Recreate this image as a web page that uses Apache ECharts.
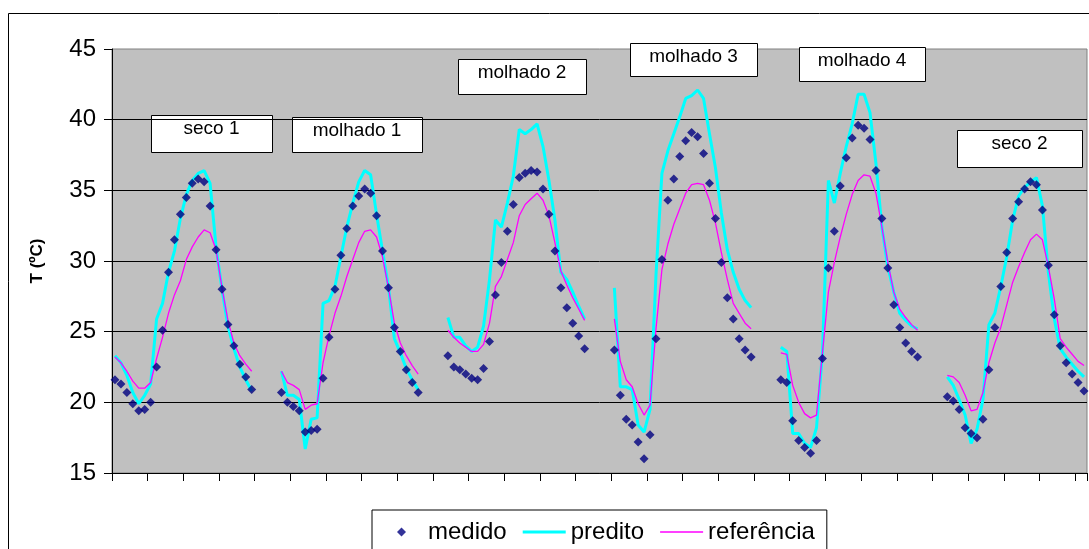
<!DOCTYPE html>
<html>
<head>
<meta charset="utf-8">
<script src="https://cdn.jsdelivr.net/npm/echarts@6/dist/echarts.min.js"></script>
<style>
  html, body { margin: 0; padding: 0; background: #fff; }
  #chart { width: 1089px; height: 549px; }
</style>
</head>
<body>
<div id="chart"></div>
<script>
// Six measured days, hourly readings (24 per day)
const dias = ['seco 1', 'molhado 1', 'molhado 2', 'molhado 3', 'molhado 4', 'seco 2'];
const horasPorDia = 24;
const vaziosEntreDias = 4;          // empty categories separating consecutive days
const yTicks = [15, 20, 25, 30, 35, 40, 45];

// medido (°C)
const medido = [
  [21.6, 21.3, 20.7, 19.9, 19.4, 19.5, 20.0, 22.5, 25.1, 29.2, 31.5, 33.3, 34.5, 35.5, 35.8, 35.6, 33.9, 30.8, 28.0, 25.5, 24.0, 22.7, 21.8, 20.9],
  [20.7, 20.0, 19.7, 19.4, 17.9, 18.0, 18.1, 21.7, 24.6, 28.0, 30.4, 32.3, 33.9, 34.6, 35.1, 34.8, 33.2, 30.7, 28.1, 25.3, 23.6, 22.3, 21.4, 20.7],
  [23.3, 22.5, 22.3, 22.0, 21.7, 21.6, 22.4, 24.3, 27.6, 29.9, 32.1, 34.0, 35.9, 36.2, 36.4, 36.3, 35.1, 33.3, 30.7, 28.1, 26.7, 25.6, 24.7, 23.8],
  [23.7, 20.5, 18.8, 18.4, 17.2, 16.0, 17.7, 24.5, 30.1, 34.3, 35.8, 37.4, 38.5, 39.1, 38.8, 37.6, 35.5, 33.0, 29.9, 27.4, 25.9, 24.5, 23.7, 23.2],
  [21.6, 21.4, 18.7, 17.3, 16.8, 16.4, 17.3, 23.1, 29.5, 32.1, 35.3, 37.3, 38.7, 39.6, 39.4, 38.6, 36.4, 33.0, 29.5, 26.9, 25.3, 24.2, 23.6, 23.2],
  [20.4, 20.1, 19.5, 18.2, 17.8, 17.5, 18.8, 22.3, 25.3, 28.2, 30.6, 33.0, 34.2, 35.1, 35.6, 35.4, 33.6, 29.7, 26.2, 24.0, 22.8, 22.0, 21.4, 20.8]
];

// predito (°C)
const predito = [
  [23.3, 22.8, 21.9, 20.7, 19.9, 20.5, 21.3, 25.9, 27.0, 29.2, 30.7, 33.0, 34.7, 35.7, 36.2, 36.4, 35.5, 31.0, 28.0, 25.4, 23.8, 22.5, 21.6, 20.8],
  [22.2, 20.5, 20.5, 20.2, 16.7, 18.8, 18.9, 27.0, 27.2, 28.2, 30.3, 32.4, 34.1, 35.6, 36.4, 36.1, 33.3, 30.7, 28.2, 24.5, 23.5, 22.4, 21.6, 20.9],
  [26.0, 24.6, 24.6, 24.0, 23.6, 23.9, 25.4, 28.7, 32.9, 32.4, 34.1, 36.0, 39.3, 39.0, 39.3, 39.7, 38.1, 35.7, 32.9, 29.2, 28.7, 27.8, 26.8, 25.9],
  [28.1, 21.1, 21.1, 20.9, 18.4, 17.9, 19.5, 29.0, 36.2, 37.8, 39.0, 40.2, 41.5, 41.7, 42.1, 41.5, 39.0, 36.6, 33.4, 30.8, 29.2, 28.0, 27.2, 26.7],
  [23.9, 23.6, 17.8, 17.8, 17.1, 16.8, 18.2, 23.5, 35.7, 34.1, 36.2, 38.1, 39.7, 41.8, 41.8, 40.5, 36.9, 32.4, 29.6, 27.8, 26.3, 25.8, 25.4, 25.2],
  [21.8, 21.2, 20.2, 19.1, 17.1, 18.1, 20.2, 25.5, 26.3, 28.2, 30.3, 32.9, 34.6, 35.2, 35.6, 35.9, 33.9, 29.2, 25.9, 23.8, 23.2, 22.7, 22.2, 21.8]
];

// referência (°C)
const referencia = [
  [23.2, 22.8, 22.2, 21.5, 21.0, 21.0, 21.4, 23.1, 24.6, 26.3, 27.6, 28.6, 30.1, 31.0, 31.7, 32.2, 32.0, 30.8, 28.1, 25.8, 24.2, 23.3, 22.7, 22.2],
  [22.2, 21.4, 21.2, 20.9, 19.5, 19.8, 19.9, 22.8, 24.7, 26.3, 27.5, 28.9, 30.1, 31.3, 32.1, 32.2, 31.7, 30.3, 28.1, 25.6, 24.2, 23.3, 22.6, 22.0],
  [25.1, 24.6, 24.2, 23.9, 23.6, 23.6, 24.1, 25.6, 28.2, 28.9, 30.1, 31.3, 33.2, 34.0, 34.4, 34.8, 34.3, 33.2, 31.3, 29.3, 28.3, 27.4, 26.6, 25.8],
  [25.9, 22.9, 21.6, 21.1, 19.9, 19.1, 19.8, 25.2, 29.4, 31.2, 32.6, 33.7, 34.8, 35.4, 35.5, 35.4, 34.3, 32.7, 30.6, 28.7, 27.0, 26.3, 25.6, 25.2],
  [23.5, 23.4, 21.2, 20.0, 19.2, 18.9, 19.1, 23.5, 27.8, 29.9, 31.7, 33.3, 34.7, 35.7, 36.1, 36.0, 34.8, 32.4, 29.9, 27.8, 26.6, 26.0, 25.5, 25.1],
  [21.9, 21.8, 21.4, 20.5, 19.4, 19.5, 20.7, 22.8, 24.2, 25.3, 26.9, 28.5, 29.6, 30.6, 31.5, 31.9, 31.5, 29.6, 27.3, 24.5, 23.9, 23.4, 22.9, 22.6]
];

// Lay the days out along one category axis, with empty slots between them
function encadear(porDia) {
  const out = [];
  porDia.forEach((dia, d) => {
    dia.forEach(v => out.push(v));
    if (d < porDia.length - 1) {
      for (let k = 0; k < vaziosEntreDias; k++) out.push(null);
    }
  });
  return out;
}

const categorias = [];
dias.forEach((nome, d) => {
  for (let h = 0; h < horasPorDia; h++) categorias.push(nome + ' ' + h + 'h');
  if (d < dias.length - 1) {
    for (let k = 0; k < vaziosEntreDias; k++) categorias.push(nome + ' +' + k);
  }
});

const FONT = '"Liberation Sans", Arial, Helvetica, sans-serif';

// Day caption boxes (pixel placement inside the chart)
const caixas = [
  { x: 151, y: 115, w: 121, h: 37 },
  { x: 292, y: 117, w: 130, h: 35 },
  { x: 458, y: 59,  w: 128, h: 35 },
  { x: 630, y: 43,  w: 127, h: 33 },
  { x: 799, y: 47,  w: 126, h: 34 },
  { x: 957, y: 130, w: 125, h: 37 }
];

const graficos = [
  {
    type: 'rect', z: 0, silent: true,
    shape: { x: 8.5, y: 13.5, width: 1200, height: 700 },
    style: { fill: 'none', stroke: '#000', lineWidth: 1 }
  }
];
caixas.forEach((c, i) => {
  graficos.push({
    type: 'group', z: 20,
    children: [
      {
        type: 'rect',
        shape: { x: c.x + 0.5, y: c.y + 0.5, width: c.w, height: c.h },
        style: { fill: '#fff', stroke: '#000', lineWidth: 1 }
      },
      {
        type: 'text',
        style: {
          text: dias[i], x: c.x + c.w / 2, y: c.y + 14,
          align: 'center', verticalAlign: 'middle',
          font: '19px ' + FONT, fill: '#000'
        }
      }
    ]
  });
});

// Legend glyphs: a small diamond for the points, plain strokes for the lines
const iconeDiamante = 'path://M5,0 L10,5 L5,10 L0,5 Z';
const iconeLinhaGrossa = 'path://M0,0 L43,0 L43,3 L0,3 Z';
const iconeLinhaFina = 'path://M0,0 L43,0 L43,1.4 L0,1.4 Z';

const chart = echarts.init(document.getElementById('chart'), null, { renderer: 'canvas' });
chart.setOption({
  animation: false,
  backgroundColor: '#fff',
  textStyle: { fontFamily: FONT },
  grid: {
    left: 112, right: 2, top: 49, bottom: 76,
    show: true, backgroundColor: '#C0C0C0',
    borderColor: '#808080', borderWidth: 1
  },
  legend: {
    left: 372, top: 510,
    itemWidth: 43, itemHeight: 9, itemGap: 16,
    symbolKeepAspect: true,
    padding: [10, 12, 40, 25],
    borderColor: '#000', borderWidth: 1, backgroundColor: '#fff',
    textStyle: { fontSize: 24, color: '#000', fontFamily: FONT },
    data: [
      { name: 'medido', icon: iconeDiamante },
      { name: 'predito', icon: iconeLinhaGrossa },
      { name: 'referência', icon: iconeLinhaFina }
    ]
  },
  xAxis: {
    type: 'category',
    data: categorias,
    boundaryGap: true,
    axisLine: { show: true, lineStyle: { color: '#000', width: 1 } },
    axisTick: { show: true, interval: 5, length: 8, lineStyle: { color: '#000' } },
    axisLabel: { show: false },
    splitLine: { show: false }
  },
  yAxis: {
    type: 'value',
    min: yTicks[0], max: yTicks[yTicks.length - 1], interval: 5,
    name: 'T (ºC)', nameLocation: 'middle', nameRotate: 90, nameGap: 66,
    nameTextStyle: { fontSize: 17, fontWeight: 'bold', color: '#000', fontFamily: FONT },
    axisLine: { show: true, lineStyle: { color: '#000', width: 1 } },
    axisTick: { show: true, length: 8, lineStyle: { color: '#000' } },
    axisLabel: { fontSize: 24, color: '#000', margin: 16, fontFamily: FONT },
    splitLine: { show: true, showMaxLine: false, lineStyle: { color: '#000', width: 1 } }
  },
  series: [
    {
      name: 'predito', type: 'line', data: encadear(predito),
      symbol: 'none', connectNulls: false, z: 2,
      lineStyle: { color: '#00FFFF', width: 3 },
      itemStyle: { color: '#00FFFF' }
    },
    {
      name: 'referência', type: 'line', data: encadear(referencia),
      symbol: 'none', connectNulls: false, z: 3,
      lineStyle: { color: '#FF00FF', width: 1.3 },
      itemStyle: { color: '#FF00FF' }
    },
    {
      name: 'medido', type: 'scatter', data: encadear(medido),
      symbol: 'diamond', symbolSize: 9, z: 4,
      itemStyle: { color: '#000080' }
    }
  ],
  graphic: graficos
});
</script>
</body>
</html>
